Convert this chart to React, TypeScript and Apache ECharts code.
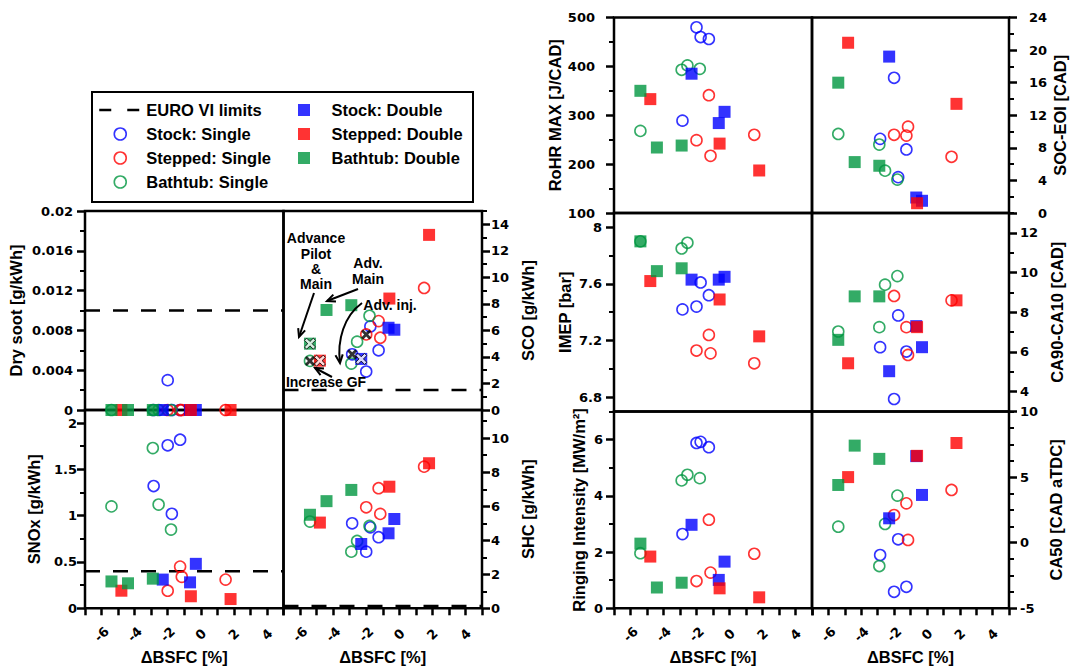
import { useEffect, useRef } from 'react';
import * as echarts from 'echarts';

const GROUP_NAMES = ['Stock: Single', 'Stepped: Single', 'Bathtub: Single', 'Stock: Double', 'Stepped: Double', 'Bathtub: Double'];
const LIMIT_NAME = 'EURO VI limits';

// ΔBSFC [%] of every operating point, one row per configuration (order of GROUP_NAMES)
const deltaBsfc = [
  [-2.85, -2.0, -1.75, -1.25],
  [-2.0, -1.25, -1.15, 1.5],
  [-5.4, -2.9, -2.55, -1.8],
  [-2.3, -0.65, -0.3],
  [-4.8, -0.6, 1.8],
  [-5.4, -4.4, -2.9],
];

// Emissions [g/kWh]
const drySoot = [[0, 0.003, 0, 0], [0, 0, 0, 0], [0, 0, 0, 0], [0, 0, 0], [0, 0, 0], [0, 0, 0]];
const sco = [[4.2, 2.9, 6.3, 4.5], [5.7, 6.7, 5.45, 9.2], [3.7, 3.5, 5.15, 7.1], [3.85, 6.2, 6.05], [3.72, 8.4, 13.2], [5.0, 7.54, 7.9]];
const snox = [[1.32, 1.76, 1.02, 1.82], [0.19, 0.45, 0.34, 0.31], [1.1, 1.73, 1.12, 0.85], [0.31, 0.28, 0.48], [0.19, 0.13, 0.1], [0.29, 0.27, 0.32]];
const shc = [[5.0, 3.33, 4.76, 4.18], [5.94, 7.06, 5.55, 8.33], [5.1, 3.33, 3.96, 4.84], [3.78, 4.41, 5.25], [5.04, 7.15, 8.53], [5.5, 6.3, 6.96]];

// Combustion metrics
const rohrMax = [[289, 480, 460, 456], [249, 341, 217, 260], [268, 393, 402, 395], [385, 284, 307], [333, 242, 187], [350, 234, 238]];
const socEoi = [[9.1, 16.6, 4.4, 7.8], [9.6, 9.5, 10.6, 6.9], [9.7, 8.4, 5.2, 4.1], [19.2, 1.9, 1.5], [20.9, 1.2, 13.4], [16.0, 6.25, 5.8]];
const imep = [[7.42, 7.44, 7.61, 7.52], [7.13, 7.24, 7.11, 7.04], [7.9, 7.85, 7.89, null], [7.63, 7.63, 7.65], [7.62, 7.49, 7.23], [7.9, 7.69, 7.71]];
const ca90ca10 = [[6.24, 3.63, 7.84, 6.02], [8.82, 7.25, 5.85, 8.6], [7.03, 7.25, 9.39, 9.82], [5.03, 7.3, 6.24], [5.43, 7.25, 8.6], [6.61, 8.8, 8.8]];
const ringing = [[2.64, 5.88, 5.92, 5.73], [0.97, 3.15, 1.27, 1.94], [1.96, 4.55, 4.75, 4.63], [2.97, 1.01, 1.66], [1.84, 0.71, 0.39], [2.3, 0.74, 0.91]];
const ca50 = [[-0.94, -3.74, 0.26, -3.36], [2.11, 3.0, 0.21, 4.02], [1.22, -1.78, 1.43, 3.59], [1.86, 6.6, 3.64], [5.0, 6.62, 7.6], [4.4, 7.4, 6.39]];

// EURO VI limits [g/kWh]
const limitPm = 0.01;
const limitNox = 0.4;
const limitCo = 1.5;
const limitHc = 0.13;

// Tick labels
const bsfcTicks = [-6, -4, -2, 0, 2, 4];
const sootTicks = [0, 0.004, 0.008, 0.012, 0.016, 0.02];
const noxTicks = [0, 0.5, 1, 1.5, 2];
const coTicks = [0, 2, 4, 6, 8, 10, 12, 14];
const hcTicks = [0, 2, 4, 6, 8, 10];
const rohrTicks = [100, 200, 300, 400, 500];
const socTicks = [0, 4, 8, 12, 16, 20, 24];
const imepTicks = [6.8, 7.2, 7.6, 8];
const cadTicks = [4, 6, 8, 10, 12];
const ringTicks = [0, 2, 4, 6];
const ca50Ticks = [-5, 0, 5, 10];

const COLORS = ['#0000ff', '#ff0000', '#009640', '#0000ff', '#ff0000', '#009640'];
const HOLLOW = [true, true, true, false, false, false];

const TICK_FONT = { fontFamily: '"DejaVu Sans", sans-serif', fontWeight: 'bold' as const, fontSize: 13, color: '#000' };
const TITLE_FONT = { fontFamily: '"Liberation Sans", Arial, sans-serif', fontWeight: 'bold' as const, fontSize: 16.5, color: '#000' };
const NOTE_FONT = 'bold 14px "Liberation Sans", Arial, sans-serif';
const DASH = [15, 13];

type Panel = {
  title: string;
  values: (number | null)[][];
  ticks: number[];
  minorStep: number;
  min: number;
  max: number;
  side: 'left' | 'right';
  box: [number, number, number, number];
  bottom: boolean;
  limit?: number;
  nameGap: number;
  labelMargin: number;
  labelAlign?: 'left' | 'right';
};

const panels: Panel[] = [
  { title: 'Dry soot [g/kWh]', values: drySoot, ticks: sootTicks, minorStep: 0.002, min: 0, max: 0.02, side: 'left', box: [85, 211, 198.5, 199], bottom: false, limit: limitPm, nameGap: 61, labelMargin: 12 },
  { title: 'SCO [g/kWh]', values: sco, ticks: coTicks, minorStep: 1, min: 0, max: 15, side: 'right', box: [283.5, 211, 198.5, 199], bottom: false, limit: limitCo, nameGap: 37, labelMargin: 9 },
  { title: 'SNOx [g/kWh]', values: snox, ticks: noxTicks, minorStep: 0.25, min: 0, max: 2.141, side: 'left', box: [85, 410, 198.5, 198.3], bottom: true, limit: limitNox, nameGap: 43, labelMargin: 8 },
  { title: 'SHC [g/kWh]', values: shc, ticks: hcTicks, minorStep: 1, min: 0, max: 11.66, side: 'right', box: [283.5, 410, 198.5, 198.3], bottom: true, limit: limitHc, nameGap: 37, labelMargin: 9 },
  { title: 'RoHR MAX [J/CAD]', values: rohrMax, ticks: rohrTicks, minorStep: 50, min: 100, max: 500, side: 'left', box: [614, 17.5, 198, 195.5], bottom: false, nameGap: 51, labelMargin: 19 },
  { title: 'SOC-EOI [CAD]', values: socEoi, ticks: socTicks, minorStep: 2, min: 0, max: 24, side: 'right', box: [812, 17.5, 197, 195.5], bottom: false, nameGap: 42, labelMargin: 38, labelAlign: 'right' },
  { title: 'IMEP [bar]', values: imep, ticks: imepTicks, minorStep: 0.2, min: 6.7, max: 8.1, side: 'left', box: [614, 213, 198, 198.5], bottom: false, nameGap: 41, labelMargin: 12 },
  { title: 'CA90-CA10 [CAD]', values: ca90ca10, ticks: cadTicks, minorStep: 1, min: 3, max: 13, side: 'right', box: [812, 213, 197, 198.5], bottom: false, nameGap: 39, labelMargin: 11 },
  { title: 'Ringing Intensity [MW/m²]', values: ringing, ticks: ringTicks, minorStep: 1, min: 0, max: 7, side: 'left', box: [614, 411.5, 198, 196.8], bottom: true, nameGap: 27, labelMargin: 11 },
  { title: 'CA50 [CAD aTDC]', values: ca50, ticks: ca50Ticks, minorStep: 1.25, min: -5, max: 10, side: 'right', box: [812, 411.5, 197, 196.8], bottom: true, nameGap: 38, labelMargin: 11 },
];

const steps = (from: number, to: number, step: number) => {
  const out: number[] = [];
  for (let v = from; v <= to + 1e-9; v += step) out.push(Math.round(v * 1e6) / 1e6);
  return out;
};
const fmt = (v: number) => String(Number(Number(v).toFixed(4)));
const xTickValues = steps(-7, 5, 1);
const minorOf = (p: Panel) =>
  steps(Math.ceil(p.min / p.minorStep - 1e-9) * p.minorStep, p.max, p.minorStep).filter(
    (v) => !p.ticks.some((t) => Math.abs(t - v) < 1e-6)
  );

const CROSS = 'path://M2,0L5,3L8,0L10,2L7,5L10,8L8,10L5,7L2,10L0,8L3,5L0,2Z';

function chevron(tx: number, ty: number, fx: number, fy: number) {
  const a = Math.atan2(ty - fy, tx - fx);
  const len = 9;
  const s = 0.42;
  return {
    type: 'polyline',
    shape: {
      points: [
        [tx - len * Math.cos(a - s), ty - len * Math.sin(a - s)],
        [tx, ty],
        [tx - len * Math.cos(a + s), ty - len * Math.sin(a + s)],
      ],
    },
    style: { stroke: '#000', lineWidth: 2, fill: 'none' },
    z: 100,
  };
}
function arrow(x1: number, y1: number, x2: number, y2: number) {
  return [
    { type: 'line', shape: { x1, y1, x2, y2 }, style: { stroke: '#000', lineWidth: 2 }, z: 100 },
    chevron(x2, y2, x1, y1),
  ];
}
function note(text: string, x: number, y: number) {
  return {
    type: 'text',
    x,
    y,
    style: { text, font: NOTE_FONT, fill: '#000', align: 'center', verticalAlign: 'middle', textAlign: 'center', textVerticalAlign: 'middle' },
    z: 100,
  };
}

function buildOption() {
  const grid = panels.map((p) => ({
    left: p.box[0],
    top: p.box[1],
    width: p.box[2],
    height: p.box[3],
    show: true,
    borderColor: '#000',
    borderWidth: 2.5,
    backgroundColor: 'transparent',
    containLabel: false,
    outerBoundsMode: 'none',
  }));

  const xAxis = panels.map((p, i) => ({
    type: 'value',
    gridIndex: i,
    min: -7,
    max: 5,
    position: 'bottom',
    axisLine: { show: false, onZero: false },
    splitLine: { show: false },
    axisTick: p.bottom
      ? { show: true, customValues: xTickValues, length: 7, lineStyle: { color: '#000', width: 2.5 } }
      : { show: false },
    axisLabel: p.bottom
      ? { show: true, customValues: bsfcTicks, rotate: 45, margin: 26, align: 'center', verticalAlign: 'middle', formatter: fmt, ...TICK_FONT }
      : { show: false },
    name: p.bottom ? 'ΔBSFC [%]' : '',
    nameLocation: 'middle',
    nameGap: 40,
    nameTextStyle: TITLE_FONT,
    nameMoveOverlap: false,
  }));

  const yAxis: any[] = [];
  panels.forEach((p, i) => {
    yAxis.push({
      type: 'value',
      gridIndex: i,
      position: p.side,
      min: p.min,
      max: p.max,
      axisLine: { show: false, onZero: false },
      splitLine: { show: false },
      axisTick: { show: true, customValues: p.ticks, length: 8, lineStyle: { color: '#000', width: 2.5 } },
      axisLabel: {
        show: true,
        customValues: p.ticks,
        margin: p.labelMargin,
        formatter: fmt,
        ...(p.labelAlign ? { align: p.labelAlign } : {}),
        ...TICK_FONT,
      },
      name: p.title,
      nameLocation: 'middle',
      nameRotate: 90,
      nameGap: p.nameGap,
      nameTextStyle: TITLE_FONT,
      nameMoveOverlap: false,
    });
    yAxis.push({
      type: 'value',
      gridIndex: i,
      position: p.side,
      min: p.min,
      max: p.max,
      axisLine: { show: false, onZero: false },
      splitLine: { show: false },
      axisLabel: { show: false },
      axisTick: { show: true, customValues: minorOf(p), length: 5, lineStyle: { color: '#000', width: 2 } },
    });
  });

  const series: any[] = [];
  panels.forEach((p, i) => {
    if (p.limit != null) {
      series.push({
        type: 'line',
        name: LIMIT_NAME,
        xAxisIndex: i,
        yAxisIndex: 2 * i,
        data: [[-7, p.limit], [5, p.limit]],
        symbol: 'none',
        silent: true,
        lineStyle: { color: '#000', width: 2.5, type: DASH },
        z: 1,
      });
    }
    GROUP_NAMES.forEach((name, g) => {
      const data = deltaBsfc[g]
        .map((x, k) => [x, p.values[g][k]])
        .filter((d) => d[1] != null);
      series.push({
        type: 'scatter',
        name,
        xAxisIndex: i,
        yAxisIndex: 2 * i,
        data,
        clip: false,
        symbol: HOLLOW[g] ? 'circle' : 'rect',
        symbolSize: HOLLOW[g] ? 11 : 12,
        itemStyle: HOLLOW[g]
          ? { color: 'rgba(0,0,0,0)', borderColor: COLORS[g], borderWidth: 1.6 }
          : { color: COLORS[g] },
        emphasis: { disabled: true },
        z: 2,
      });
    });
  });

  // baseline points of each configuration in the SCO panel
  const scoPanel = 1;
  series.push({
    type: 'scatter',
    name: 'baseline single',
    xAxisIndex: scoPanel,
    yAxisIndex: 2 * scoPanel,
    data: [0, 1, 2].map((g) => [deltaBsfc[g][0], sco[g][0]]),
    symbol: CROSS,
    symbolSize: 10,
    itemStyle: { color: '#000' },
    silent: true,
    z: 3,
  });
  series.push({
    type: 'scatter',
    name: 'baseline double',
    xAxisIndex: scoPanel,
    yAxisIndex: 2 * scoPanel,
    data: [3, 4, 5].map((g) => [deltaBsfc[g][0], sco[g][0]]),
    symbol: CROSS,
    symbolSize: 11,
    itemStyle: { color: '#fff', borderColor: '#000', borderWidth: 1 },
    silent: true,
    z: 3,
  });

  const legendText = { fontFamily: '"Liberation Sans", Arial, sans-serif', fontWeight: 'bold' as const, fontSize: 16.5, color: '#000', lineHeight: 16 };

  const graphic: any[] = [
    { type: 'rect', shape: { x: 92, y: 92, width: 381, height: 110 }, style: { fill: 'none', stroke: '#000', lineWidth: 2 }, z: 50 },
    note('Advance', 316, 238),
    note('Pilot', 316, 254),
    note('&', 316, 269),
    note('Main', 316, 284),
    note('Adv.', 368, 263),
    note('Main', 368, 279),
    note('Adv. inj.', 390, 305),
    note('Increase GF', 326, 382),
    ...arrow(358, 289, 327, 301),
    ...arrow(314, 293, 299, 337),
    ...arrow(332, 377, 315, 368),
    {
      type: 'bezierCurve',
      shape: { x1: 362, y1: 303, cpx1: 344, cpy1: 316, cpx2: 337, cpy2: 340, x2: 340, y2: 363 },
      style: { stroke: '#000', lineWidth: 2, fill: 'none' },
      z: 100,
    },
    chevron(340, 363, 338, 345),
  ];

  return {
    animation: false,
    backgroundColor: '#fff',
    grid,
    xAxis,
    yAxis,
    series,
    graphic,
    legend: [
      {
        data: [
          { name: LIMIT_NAME, lineStyle: { width: 2.5, type: [12, 16] }, itemStyle: { color: 'rgba(0,0,0,0)', borderColor: 'rgba(0,0,0,0)', borderWidth: 0 } },
          ...GROUP_NAMES.slice(0, 3).map((n) => ({ name: n, itemStyle: { borderWidth: 1.6 } })),
        ],
        orient: 'vertical',
        left: 98,
        top: 101.5,
        itemWidth: 42,
        itemHeight: 12,
        itemGap: 7,
        padding: 0,
        textStyle: legendText,
      },
      {
        data: GROUP_NAMES.slice(3),
        icon: 'path://M0,0H10V10H0Z',
        orient: 'vertical',
        left: 298,
        top: 101.5,
        itemWidth: 45,
        itemHeight: 12,
        itemGap: 7,
        padding: 0,
        textStyle: legendText,
      },
    ],
  };
}

export default function App() {
  const ref = useRef<HTMLDivElement>(null);
  useEffect(() => {
    if (!ref.current) return;
    const chart = echarts.init(ref.current, null, { renderer: 'svg' });
    chart.setOption(buildOption() as any);
    return () => chart.dispose();
  }, []);
  return <div ref={ref} style={{ position: 'fixed', left: 0, top: 0, width: 1070, height: 668, background: '#fff' }} />;
}
